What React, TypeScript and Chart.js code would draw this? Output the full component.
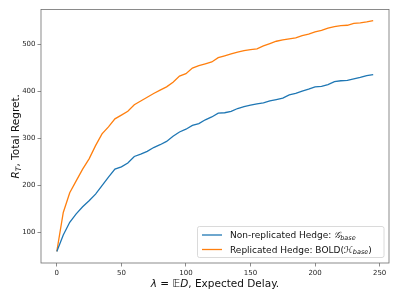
import React, { useEffect, useRef } from "react";
import { Chart, registerables } from "chart.js";

Chart.register(...registerables);

const delays = [0, 5, 10, 15, 20, 25, 30, 35, 40, 45, 50, 55, 60, 65, 70, 75, 80, 85, 90, 95, 100, 105, 110, 115, 120, 125, 130, 135, 140, 145, 150, 155, 160, 165, 170, 175, 180, 185, 190, 195, 200, 205, 210, 215, 220, 225, 230, 235, 240, 245];

const nonReplicated = [60, 95, 122, 140, 155, 168, 182, 200, 218, 235, 240, 248, 262, 267, 273, 281, 287, 294, 305, 314, 320, 328, 332, 340, 346, 354, 355, 358, 364, 368, 371, 374, 376, 380, 383, 386, 393, 396, 401, 405, 410, 411, 415, 421, 423, 424, 427, 430, 434, 436];

const replicated = [60, 143, 185, 210, 235, 257, 285, 310, 325, 342, 350, 358, 372, 380, 388, 396, 403, 410, 420, 433, 438, 450, 455, 459, 463, 472, 476, 480, 484, 487, 489, 491, 497, 502, 507, 510, 512, 514, 519, 522, 527, 530, 535, 538, 540, 541, 545, 546, 548, 551];

const xTicks = [0, 50, 100, 150, 200, 250];
const yTicks = [100, 200, 300, 400, 500];

const BLUE = "#1f77b4";
const ORANGE = "#ff7f0e";
const FONT = "'DejaVu Sans', sans-serif";

type Piece = { t: string; size: number; italic?: boolean; dy?: number; family?: string };

function drawPieces(ctx: CanvasRenderingContext2D, pieces: Piece[], x: number, y: number, align: "left" | "center") {
  const fontOf = (p: Piece) => `${p.italic ? "italic " : ""}${p.size}px ${p.family || FONT}`;
  let total = 0;
  for (const p of pieces) {
    ctx.font = fontOf(p);
    total += ctx.measureText(p.t).width;
  }
  let cx = align === "center" ? x - total / 2 : x;
  ctx.textBaseline = "alphabetic";
  ctx.textAlign = "left";
  for (const p of pieces) {
    ctx.font = fontOf(p);
    ctx.fillText(p.t, cx, y + (p.dy || 0));
    cx += ctx.measureText(p.t).width;
  }
}

const decorPlugin = {
  id: "decor",
  afterDraw(chart: any) {
    const ctx: CanvasRenderingContext2D = chart.ctx;
    const a = chart.chartArea;
    ctx.save();
    // frame
    ctx.strokeStyle = "#6e6e6e";
    ctx.lineWidth = 0.8;
    ctx.strokeRect(a.left, a.top, a.right - a.left, a.bottom - a.top);

    ctx.fillStyle = "#111";
    // x title
    drawPieces(
      ctx,
      [
        { t: "λ", size: 10.5, italic: true },
        { t: " = ", size: 10.5 },
        { t: "𝔼", size: 10.5 },
        { t: "D", size: 10.5, italic: true },
        { t: ", Expected Delay.", size: 10.5 },
      ],
      (a.left + a.right) / 2,
      287,
      "center"
    );
    // y title
    ctx.save();
    ctx.translate(19, (a.top + a.bottom) / 2);
    ctx.rotate(-Math.PI / 2);
    drawPieces(
      ctx,
      [
        { t: "R", size: 10.5, italic: true },
        { t: "T", size: 7.5, italic: true, dy: 2 },
        { t: ", Total Regret.", size: 10.5 },
      ],
      0,
      0,
      "center"
    );
    ctx.restore();

    // legend
    const lx = 197.5, ly = 226.5, lw = 186.5, lh = 31;
    ctx.fillStyle = "rgba(255,255,255,0.85)";
    ctx.strokeStyle = "#d0d0d0";
    ctx.lineWidth = 0.8;
    ctx.beginPath();
    (ctx as any).roundRect(lx, ly, lw, lh, 2);
    ctx.fill();
    ctx.stroke();
    const rows = [
      {
        color: BLUE,
        y: 235,
        pieces: [
          { t: "Non-replicated Hedge: ", size: 9 },
          { t: "𝒢", size: 9, italic: true },
          { t: "base", size: 6.5, italic: true, dy: 1.5 },
        ] as Piece[],
      },
      {
        color: ORANGE,
        y: 249.5,
        pieces: [
          { t: "Replicated Hedge: BOLD(", size: 9 },
          { t: "ℋ", size: 9, italic: true },
          { t: "base", size: 6.5, italic: true, dy: 1.5 },
          { t: ")", size: 9 },
        ] as Piece[],
      },
    ];
    for (const r of rows) {
      ctx.strokeStyle = r.color;
      ctx.lineWidth = 1.3;
      ctx.beginPath();
      ctx.moveTo(202, r.y);
      ctx.lineTo(222, r.y);
      ctx.stroke();
      ctx.fillStyle = "#111";
      drawPieces(ctx, r.pieces, 230, r.y + 3.2, "left");
    }
    ctx.restore();
  },
};

export default function App() {
  const ref = useRef<HTMLCanvasElement>(null);
  useEffect(() => {
    document.body.style.margin = "0";
    const chart = new Chart(ref.current!, {
      type: "line",
      data: {
        datasets: [
          {
            label: "Non-replicated Hedge",
            data: delays.map((x, i) => ({ x, y: nonReplicated[i] })),
            borderColor: BLUE,
            borderWidth: 1.3,
            pointRadius: 0,
            tension: 0,
            fill: false,
          },
          {
            label: "Replicated Hedge: BOLD",
            data: delays.map((x, i) => ({ x, y: replicated[i] })),
            borderColor: ORANGE,
            borderWidth: 1.3,
            pointRadius: 0,
            tension: 0,
            fill: false,
          },
        ],
      },
      options: {
        responsive: false,
        animation: false,
        layout: { padding: { top: 9.5, right: 10, left: 0, bottom: 0 } },
        plugins: { legend: { display: false }, tooltip: { enabled: false } },
        scales: {
          x: {
            type: "linear",
            min: -12.25,
            max: 257.25,
            afterBuildTicks: (axis: any) => {
              axis.ticks = xTicks.map((v) => ({ value: v }));
            },
            afterFit: (s: any) => {
              s.height = 36;
            },
            grid: { drawOnChartArea: false, drawTicks: true, tickLength: 3.5, color: "#6e6e6e", lineWidth: 0.8 },
            border: { display: false },
            ticks: { font: { family: FONT, size: 7 }, color: "#262626", padding: 2, maxRotation: 0 },
          },
          y: {
            type: "linear",
            min: 35.5,
            max: 574.5,
            afterBuildTicks: (axis: any) => {
              axis.ticks = yTicks.map((v) => ({ value: v }));
            },
            afterFit: (s: any) => {
              s.width = 41;
            },
            grid: { drawOnChartArea: false, drawTicks: true, tickLength: 3.5, color: "#6e6e6e", lineWidth: 0.8 },
            border: { display: false },
            ticks: { font: { family: FONT, size: 7 }, color: "#262626", padding: 2 },
          },
        },
      },
      plugins: [decorPlugin],
    });
    return () => chart.destroy();
  }, []);
  return (
    <div style={{ position: "absolute", left: 0, top: 0, width: 399, height: 299, background: "#fff" }}>
      <canvas ref={ref} width={399} height={299} style={{ width: 399, height: 299 }} />
    </div>
  );
}
